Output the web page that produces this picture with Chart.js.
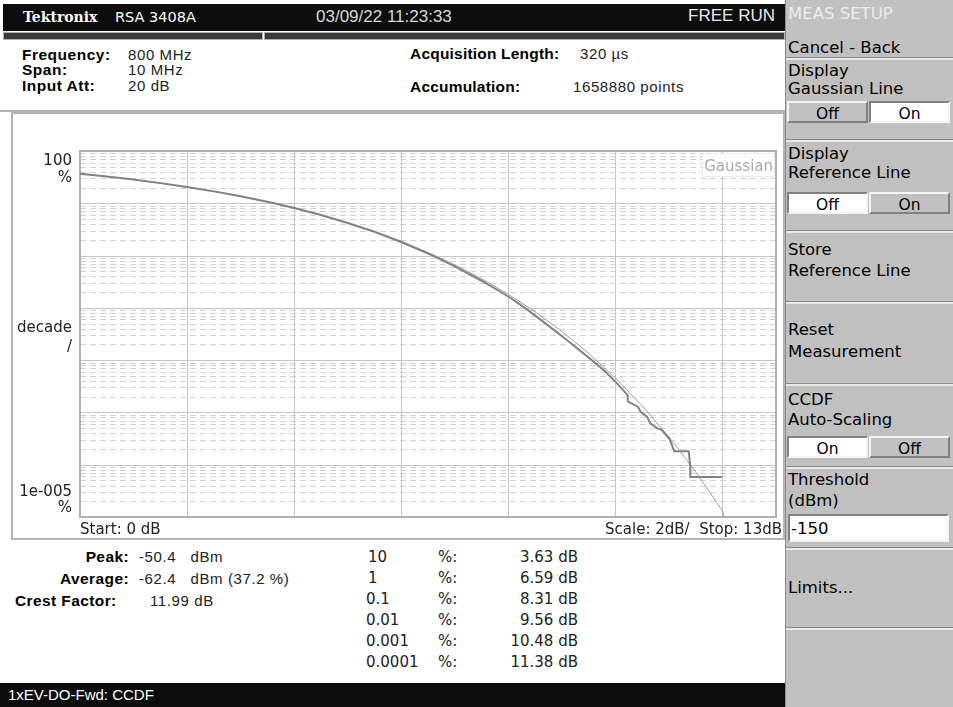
<!DOCTYPE html>
<html>
<head>
<meta charset="utf-8">
<script src="https://cdn.jsdelivr.net/npm/chart.js@4.4.1/dist/chart.umd.min.js"></script>
<style>
  body { margin: 0; width: 953px; height: 707px; overflow: hidden; background: #fff; position: relative; font-family: "DejaVu Sans", sans-serif; }
  .a { position: absolute; white-space: nowrap; line-height: 18px; }
  .lib { font-family: "Liberation Sans", Arial, sans-serif; }
  .b { font-weight: bold; }
  .v { font-family: "Liberation Sans", Arial, sans-serif; font-size: 15px; letter-spacing: 0.6px; color: #222; }
  .sep { position: absolute; left: 786px; width: 167px; height: 0; border-top: 1px solid #8a8a8a; border-bottom: 2px solid #e8e8e8; }
  .tog { position: absolute; height: 22px; line-height: 22px; text-align: center; font-size: 15.5px; box-sizing: border-box; border: 2px solid; border-color: #f4f4f4 #808080 #808080 #f4f4f4; background: #c0c0c0; color: #000; }
  .tog.on { background: #fff; border-color: #808080 #f4f4f4 #f4f4f4 #808080; }
  .pt { position: absolute; left: 788px; font-size: 16.5px; line-height: 19px; color: #000; white-space: nowrap; }
</style>
</head>
<body>
<!-- header bar -->
<div class="a" style="left:3px;top:4px;width:782px;height:27px;background:#0c0c0c"></div>
<div class="a b" style="left:23px;top:8px;color:#fff;font-family:'DejaVu Serif',serif;font-size:14px">Tektronix</div>
<div class="a" style="left:115px;top:8px;color:#fff;font-size:14.5px">RSA 3408A</div>
<div class="a lib" style="left:316px;top:8px;color:#d8d8d8;font-size:17px">03/09/22 11:23:33</div>
<div class="a lib" style="left:685px;top:7px;width:90px;text-align:right;color:#e8e8e8;font-size:17px">FREE RUN</div>
<div class="a" style="left:3px;top:32px;width:258px;height:6px;background:#3a3a3a;border:1px solid #b0b0b0"></div>
<div class="a" style="left:264px;top:32px;width:519px;height:6px;background:#3a3a3a;border:1px solid #b0b0b0"></div>

<!-- measurement settings -->
<div class="a lib b" style="left:22px;top:46px;font-size:15.5px;letter-spacing:0.5px">Frequency:</div>
<div class="a v" style="left:128px;top:46px">800 MHz</div>
<div class="a lib b" style="left:22px;top:61px;font-size:15.5px;letter-spacing:0.5px">Span:</div>
<div class="a v" style="left:128px;top:61px">10 MHz</div>
<div class="a lib b" style="left:22px;top:77px;font-size:15.5px;letter-spacing:0.5px">Input Att:</div>
<div class="a v" style="left:128px;top:77px">20 dB</div>
<div class="a lib b" style="left:410px;top:45px;font-size:15.5px;letter-spacing:0.2px">Acquisition Length:</div>
<div class="a v" style="left:580px;top:45px">320 µs</div>
<div class="a lib b" style="left:410px;top:78px;font-size:15.5px;letter-spacing:0.2px">Accumulation:</div>
<div class="a v" style="left:573px;top:78px">1658880 points</div>
<div class="a" style="left:0px;top:110px;width:785px;height:0;border-top:2px solid #b4b4b4"></div>

<!-- plot frame -->
<div class="a" style="left:11px;top:112px;width:770px;height:424px;border:2px solid #b4b4b4"></div>
<canvas id="ccdf" width="771" height="425" style="position:absolute;left:12px;top:113px"></canvas>

<!-- results -->
<div class="a lib b" style="left:30px;top:548px;width:99px;text-align:right;font-size:15.5px;letter-spacing:0.4px">Peak:</div>
<div class="a v" style="left:139px;top:548px">-50.4&nbsp;&nbsp; dBm</div>
<div class="a lib b" style="left:30px;top:570px;width:99px;text-align:right;font-size:15.5px;letter-spacing:0.4px">Average:</div>
<div class="a v" style="left:139px;top:570px">-62.4&nbsp;&nbsp; dBm (37.2 %)</div>
<div class="a lib b" style="left:15px;top:592px;font-size:15.5px;letter-spacing:0.4px">Crest Factor:</div>
<div class="a v" style="left:150px;top:592px">11.99 dB</div>
<div id="ccdfTable"></div>

<!-- status bar -->
<div class="a" style="left:0px;top:683px;width:785px;height:24px;background:#0c0c0c"></div>
<div class="a lib" style="left:8px;top:686px;color:#fff;font-size:15px">1xEV-DO-Fwd: CCDF</div>

<!-- side menu -->
<div class="a" style="left:785px;top:0;width:168px;height:707px;background:#c0c0c0;border-left:1px solid #8a8a8a;box-sizing:border-box"></div>
<div class="pt" style="top:4px;color:#ececec">MEAS SETUP</div>
<div class="pt" style="top:38px">Cancel - Back</div>
<div class="sep" style="top:57px"></div>
<div class="pt" style="top:61px">Display</div>
<div class="pt" style="top:79px">Gaussian Line</div>
<div class="tog" style="left:787px;top:101px;width:81px">Off</div>
<div class="tog on" style="left:869px;top:101px;width:81px">On</div>
<div class="sep" style="top:139px"></div>
<div class="pt" style="top:144px">Display</div>
<div class="pt" style="top:163px">Reference Line</div>
<div class="tog on" style="left:787px;top:192px;width:81px">Off</div>
<div class="tog" style="left:869px;top:192px;width:81px">On</div>
<div class="sep" style="top:230px"></div>
<div class="pt" style="top:240px">Store</div>
<div class="pt" style="top:261px">Reference Line</div>
<div class="sep" style="top:301px"></div>
<div class="pt" style="top:320px">Reset</div>
<div class="pt" style="top:342px">Measurement</div>
<div class="sep" style="top:383px"></div>
<div class="pt" style="top:390px">CCDF</div>
<div class="pt" style="top:410px">Auto-Scaling</div>
<div class="tog on" style="left:787px;top:436px;width:81px">On</div>
<div class="tog" style="left:869px;top:436px;width:81px">Off</div>
<div class="sep" style="top:466px"></div>
<div class="pt" style="top:470px">Threshold</div>
<div class="pt" style="top:491px">(dBm)</div>
<div class="a" style="left:788px;top:514px;width:161px;height:28px;background:#fff;border:2px solid;border-color:#808080 #f4f4f4 #f4f4f4 #808080;box-sizing:border-box"></div>
<div class="pt" style="top:519px;left:791px">-150</div>
<div class="sep" style="top:547px"></div>
<div class="pt" style="top:578px">Limits...</div>
<div class="sep" style="top:627px"></div>

<script>
// CCDF trace (x: dB above average, y: probability in %)
const measuredDb = [0, 0.5, 1, 1.5, 2, 2.5, 3, 3.63, 4, 4.5, 5, 5.5, 6, 6.59, 7, 7.5, 8, 8.31, 8.7, 9.1,
  9.56, 9.8, 10.03, 10.23, 10.23, 10.42, 10.48, 10.59, 10.65, 10.78, 10.87, 11.0, 11.03, 11.1, 11.37, 11.4, 11.4, 11.99];
const measuredPct = [36.8, 32.6, 28.4, 24.3, 20.5, 16.9, 13.6, 10, 8.1, 5.95, 4.2, 2.85, 1.82, 1, 0.62, 0.33, 0.165, 0.1, 0.05, 0.024,
  0.01, 0.0062, 0.0036, 0.00214, 0.00162, 0.00129, 0.001, 0.00083, 0.00062, 0.0005, 0.00046, 0.00032, 0.00028, 0.00018, 0.00018, 0.00009, 0.000058, 0.000058];

// Gaussian reference line
const gaussDb = [0, 0.5, 1, 1.5, 2, 2.5, 3, 3.5, 4, 4.5, 5, 5.5, 6, 6.5, 7, 7.5, 8, 8.5, 9, 9.5, 10, 10.5, 11, 11.5, 12, 12.03];
const gaussPct = [36.8, 32.6, 28.4, 24.3, 20.5, 16.9, 13.6, 10.7, 8.11, 5.97, 4.23, 2.88, 1.87, 1.15, 0.666, 0.361, 0.182, 0.0843,
  0.0355, 0.0135, 0.00454, 0.00134, 0.000341, 0.000073, 0.0000131, 0.00001];

// axes: 2 dB per division, 1 decade per division
const xGrid = [0, 2, 4, 6, 8, 10, 12];
const xMin = 0, xMax = 13;
const yDecades = [1e-5, 1e-4, 1e-3, 0.01, 0.1, 1, 10, 100];
const yMinor = [2, 3, 4, 5, 6, 7, 8, 9];
const yTopLabel = ['100', '%'];
const yMidLabel = ['decade', '/'];
const yBottomLabel = ['1e-005', '%'];
const startLabel = 'Start: 0 dB';
const stopLabel = 'Scale: 2dB/  Stop: 13dB';

// CCDF table
const tableProb = ['10', '1', '0.1', '0.01', '0.001', '0.0001'];
const tableDb = ['3.63 dB', '6.59 dB', '8.31 dB', '9.56 dB', '10.48 dB', '11.38 dB'];

const tbl = document.getElementById('ccdfTable');
tableProb.forEach((p, i) => {
  const top = 548 + i * 21;
  tbl.insertAdjacentHTML('beforeend',
    `<div class="a" style="left:${p.length > 2 ? 366 : 368}px;top:${top}px;font-size:15px;color:#222">${p}</div>` +
    `<div class="a" style="left:438px;top:${top}px;font-size:15px;color:#222">%:</div>` +
    `<div class="a" style="left:478px;width:100px;text-align:right;top:${top}px;font-size:15px;color:#222">${tableDb[i]}</div>`);
});

const gridPlugin = {
  id: 'ccdfGrid',
  beforeDatasetsDraw(chart) {
    const { ctx, chartArea: a, scales: { x, y } } = chart;
    ctx.save();
    ctx.lineWidth = 1;
    // minor decade lines, dashed
    ctx.strokeStyle = '#d2d2d2';
    ctx.setLineDash([6, 4]);
    ctx.beginPath();
    yDecades.slice(0, -1).forEach(d => {
      yMinor.forEach(m => {
        const py = Math.round(y.getPixelForValue(d * m)) + 0.5;
        ctx.moveTo(a.left, py);
        ctx.lineTo(a.right, py);
      });
    });
    ctx.stroke();
    ctx.setLineDash([]);
    // major lines
    ctx.strokeStyle = '#c6c6c6';
    ctx.beginPath();
    yDecades.forEach(d => {
      const py = Math.round(y.getPixelForValue(d)) + 0.5;
      ctx.moveTo(a.left, py);
      ctx.lineTo(a.right, py);
    });
    xGrid.forEach(v => {
      const px = Math.round(x.getPixelForValue(v)) + 0.5;
      ctx.moveTo(px, a.top);
      ctx.lineTo(px, a.bottom);
    });
    ctx.stroke();
    // gaussian tag
    const tx = a.right - 74, ty = a.top + 2;
    ctx.fillStyle = '#fff';
    ctx.fillRect(tx, ty, 73, 24);
    ctx.strokeStyle = '#c8c8c8';
    ctx.setLineDash([1, 2]);
    ctx.strokeRect(tx + 0.5, ty + 0.5, 72, 23);
    ctx.setLineDash([]);
    ctx.fillStyle = '#a8a8a8';
    ctx.font = '15px "DejaVu Sans"';
    ctx.textAlign = 'right';
    ctx.textBaseline = 'middle';
    ctx.fillText('Gaussian', a.right - 3, ty + 14);
    // plot border
    ctx.strokeStyle = '#b0b0b0';
    ctx.lineWidth = 2;
    ctx.strokeRect(a.left, a.top, a.right - a.left, a.bottom - a.top);
    // labels
    ctx.fillStyle = '#222';
    ctx.font = '15px "DejaVu Sans"';
    const lx = a.left - 8;
    const top = y.getPixelForValue(100), bot = y.getPixelForValue(1e-5);
    const mid = (top + bot) / 2;
    ctx.fillText(yTopLabel[0], lx, top + 10);
    ctx.fillText(yTopLabel[1], lx, top + 27);
    ctx.fillText(yMidLabel[0], lx, mid - 6);
    ctx.fillText(yMidLabel[1], lx, mid + 13);
    ctx.fillText(yBottomLabel[0], lx, bot - 25);
    ctx.fillText(yBottomLabel[1], lx, bot - 9);
    ctx.fillText(stopLabel, a.right + 6, bot + 13);
    ctx.textAlign = 'left';
    ctx.fillText(startLabel, a.left, bot + 13);
    ctx.restore();
  }
};

new Chart(document.getElementById('ccdf'), {
  type: 'line',
  data: {
    datasets: [{
      label: 'Measured',
      data: measuredDb.map((v, i) => ({ x: v, y: measuredPct[i] })),
      borderColor: '#828282',
      borderWidth: 2,
      pointRadius: 0,
      tension: 0
    }, {
      label: 'Gaussian',
      data: gaussDb.map((v, i) => ({ x: v, y: gaussPct[i] })),
      borderColor: '#9c9c9c',
      borderWidth: 1,
      pointRadius: 0,
      tension: 0
    }]
  },
  options: {
    responsive: false,
    animation: false,
    layout: { padding: { left: 68, top: 38, right: 7, bottom: 21 } },
    scales: {
      x: { type: 'linear', min: xMin, max: xMax, display: false },
      y: { type: 'logarithmic', min: 1e-5, max: 100, display: false }
    },
    plugins: { legend: { display: false }, tooltip: { enabled: false } }
  },
  plugins: [gridPlugin]
});
</script>
</body>
</html>
